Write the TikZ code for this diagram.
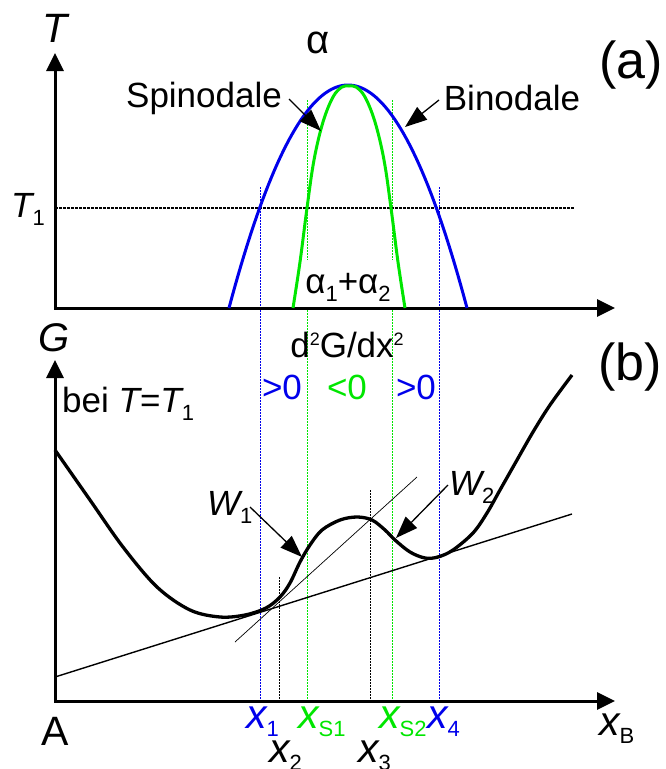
\documentclass[tikz,border=0pt]{standalone}
\usepackage{fontspec}
\setmainfont{Liberation Sans}
\usetikzlibrary{arrows.meta}
\definecolor{gr}{RGB}{0,230,0}
\definecolor{bl}{RGB}{0,0,235}
\newcommand{\lowsub}[1]{\raisebox{-8pt}{\fontsize{22}{22}\selectfont\upshape #1}}
\newcommand{\upsup}[1]{\raisebox{12pt}{\fontsize{18}{18}\selectfont\upshape #1}}
\begin{document}
\begin{tikzpicture}[x=1pt,y=-1pt,
  lbl/.style={font=\fontsize{35}{36}\selectfont, inner sep=0pt},
  biglbl/.style={font=\fontsize{41}{42}\selectfont, inner sep=0pt},
  panlbl/.style={font=\fontsize{52}{54}\selectfont, inner sep=0pt},
  axis/.style={line width=3pt, line join=miter,
     {Triangle[length=18pt,width=17pt]}-{Triangle[length=18pt,width=17pt]}},
  dotl/.style={line width=1pt, dash pattern=on 1.5pt off 1.5pt},
  pointer/.style={line width=1.3pt, -{Triangle[length=22pt,width=16pt]}},
  curve/.style={line width=3pt}]
\useasboundingbox (0,0) rectangle (665,769);

% coordinates
\coordinate (Ttop) at (55,53);
\coordinate (O1) at (55,308);
\coordinate (X1end) at (615,308);
\coordinate (Gtop) at (55,360);
\coordinate (O2) at (55,701);
\coordinate (X2end) at (615,701);

% dotted guide lines
\draw[dotl,bl] (260,187) -- (260,701);
\draw[dotl,bl] (439,187) -- (439,701);
\draw[dotl,gr] (307,100) -- (307,260);
\draw[dotl,gr] (392,100) -- (392,260);
\draw[dotl,gr] (307,310) -- (307,701);
\draw[dotl,gr] (392,310) -- (392,701);
\draw[dotl,black] (279,577) -- (279,701);
\draw[dotl,black] (370,490) -- (370,701);

% T1 line
\draw[line width=1.3pt, dash pattern=on 2.5pt off 1.5pt] (55,208) -- (574,208);

% axes
\draw[axis] (Ttop) -- (O1) -- (X1end);
\draw[axis] (Gtop) -- (O2) -- (X2end);

% binodale and spinodale
\draw[curve,bl] plot[domain=-119:119,samples=80] ({348+\x},{85+223*(\x/119)^2});
\draw[curve,gr] plot[smooth,tension=0.6] coordinates {(293,308) (300,262) (307,208) (314,160) (323,122) (333,97) (342,87) (349,86) (356,87) (365,97) (375,122) (384,160) (391,208) (398,262) (405,308)};

% tangents
\coordinate (ctA) at (55,677);
\coordinate (ctB) at (572,514);
\draw[line width=1.4pt] (ctA) -- (ctB);
\coordinate (stA) at (235,642);
\coordinate (stB) at (417,477);
\draw[line width=0.7pt] (stA) -- (stB);

% G curve
\draw[line width=3.3pt] plot[smooth,tension=0.55] coordinates {
 (55,450) (90,500) (123,547) (157,587) (190,610) (220,617) (245,615)
 (266,608) (280,597) (290,583) (300,562) (310,545) (322,530) (340,520)
 (357,517) (372,520) (385,530) (395,540) (410,552) (425,558) (438,557)
 (453,550) (473,533) (487,513) (500,490) (517,460) (533,432) (550,405) (572,375)};

% texts panel (a)
\node[biglbl,font=\fontsize{41}{42}\selectfont\itshape] (Tl) at (55,28) {T};
\node[lbl,anchor=base west] (T1l) at (11,217) {\itshape T\lowsub{1}};
\node[lbl,font=\fontsize{40}{40}\selectfont] (alpha) at (318,43) {α};
\node[panlbl] (pa) at (631,65) {(a)};
\node[lbl,anchor=base] (spin) at (204,107) {Spinodale};
\node[lbl,anchor=base] (bin) at (512,110) {Binodale};
\node[lbl,anchor=base] (a12) at (348,293) {α\lowsub{1}+α\lowsub{2}};

\coordinate (spinS) at (289,99);
\coordinate (spinT) at (321,131);
\coordinate (binS) at (439,100);
\coordinate (binT) at (405,127);
\draw[pointer] (spinS) -- (spinT);
\draw[pointer] (binS) -- (binT);

% texts panel (b)
\node[biglbl,font=\fontsize{40}{42}\selectfont\itshape] (Gl) at (54,338) {G};
\node[lbl,anchor=base] (d2g) at (347,357) {d\upsup{2}G/dx\upsup{2}};
\node[lbl,anchor=base,bl] (gt1) at (282,399) {>0};
\node[lbl,anchor=base,gr] (lt) at (347,399) {<0};
\node[lbl,anchor=base,bl] (gt2) at (416,399) {>0};
\node[panlbl] (pb) at (630,367) {(b)};
\node[lbl,anchor=base west] (bei) at (62,412) {bei {\itshape T}={\itshape T}\lowsub{1}};
\node[lbl,anchor=base west] (W1) at (207,515) {\itshape W\lowsub{1}};
\node[lbl,anchor=base west] (W2) at (449,495) {\itshape W\lowsub{2}};

\coordinate (w1S) at (250,507);
\coordinate (w1T) at (302,557);
\coordinate (w2S) at (448,485);
\coordinate (w2T) at (396,538);
\draw[pointer] (w1S) -- (w1T);
\draw[pointer] (w2S) -- (w2T);

\node[biglbl,anchor=base] (Al) at (55,745) {A};
\node[biglbl,anchor=base west] (xB) at (599,735) {\itshape x\lowsub{B}};
\node[biglbl,anchor=base west,bl] (x1) at (246,728) {\itshape x\lowsub{1}};
\node[biglbl,anchor=base west,gr] (xs1) at (298,728) {\itshape x\lowsub{S1}};
\node[biglbl,anchor=base west,gr] (xs2) at (379,728) {\itshape x\lowsub{S2}};
\node[biglbl,anchor=base west,bl] (x4) at (427,728) {\itshape x\lowsub{4}};
\node[biglbl,anchor=base west] (x2) at (269,762) {\itshape x\lowsub{2}};
\node[biglbl,anchor=base west] (x3) at (358,762) {\itshape x\lowsub{3}};
\end{tikzpicture}
\end{document}
